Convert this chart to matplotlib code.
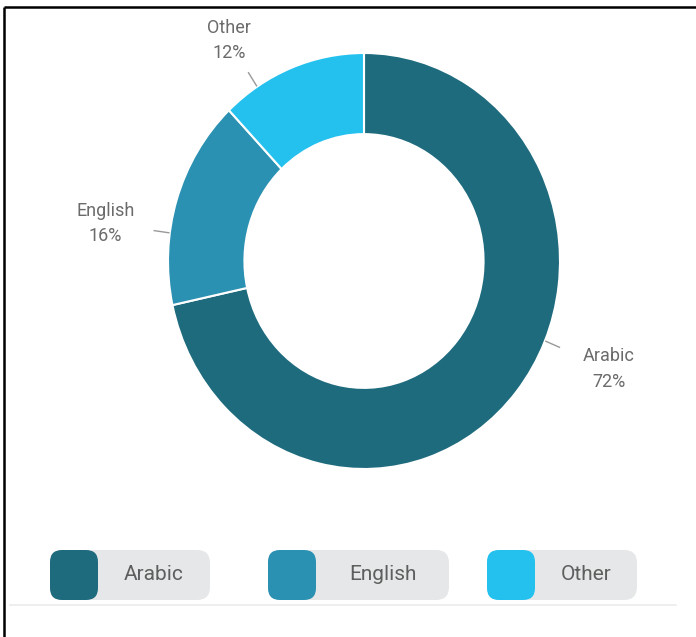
import numpy as np
import matplotlib.pyplot as plt
from matplotlib.patches import FancyBboxPatch

languages = ['Arabic', 'English', 'Other']
shares = [71.6, 16.3, 12.1]
colors = ['#1f6b7e', '#2b91b2', '#24c1ef']

# label anchor positions in the donut's own coords (radius = 1)
label_pos = [(1.25, -0.52), (-1.32, 0.18), (-0.69, 1.06)]

# legend pill layout, pixels from top-left
pill_left = [50, 268, 487]
pill_width = [160, 181, 150]

W, H = 696, 637
fig = plt.figure(figsize=(W / 100, H / 100), dpi=100)

# donut (the source image is slightly stretched vertically)
cx, cy, rx, ry = 364, 261, 196, 208
ax = fig.add_axes([(cx - rx) / W, (H - cy - ry) / H, 2 * rx / W, 2 * ry / H])
ax.pie(shares, colors=colors, startangle=90, counterclock=False,
       wedgeprops=dict(width=0.39, edgecolor='white', linewidth=1.5))
ax.set_aspect('auto')
ax.set_xlim(-1, 1)
ax.set_ylim(-1, 1)
ax.axis('off')

for lang, share, (lx, ly) in zip(languages, shares, label_pos):
    ang = np.arctan2(ly, lx)
    ax.plot([1.005 * np.cos(ang), 1.08 * np.cos(ang)],
            [1.005 * np.sin(ang), 1.08 * np.sin(ang)],
            color='#999999', lw=1, clip_on=False)
    ax.text(lx, ly, f'{lang}\n{share:.0f}%', ha='center', va='center',
            fontsize=13, color='#6b6b6b', family='Roboto', linespacing=1.55)

# overlay for legend, frame lines
ov = fig.add_axes([0, 0, 1, 1])
ov.set_xlim(0, W)
ov.set_ylim(H, 0)
ov.axis('off')

for lang, col, x0, w in zip(languages, colors, pill_left, pill_width):
    ov.add_patch(FancyBboxPatch((x0, 550), w, 50,
                                boxstyle='round,pad=0,rounding_size=13',
                                fc='#e6e7e8', ec='none'))
    ov.add_patch(FancyBboxPatch((x0, 550), 48, 50,
                                boxstyle='round,pad=0,rounding_size=12',
                                fc=col, ec='none'))
    ov.text((x0 + 48 + x0 + w) / 2, 575, lang, ha='center', va='center',
            fontsize=15, color='#5e5e5e', family='Roboto')

ov.plot([10, 676], [605, 605], color='#ebebeb', lw=1.2)
ov.plot([4, W], [7, 7], color='black', lw=1.8, solid_capstyle='butt')
ov.plot([4, 4], [7, H], color='black', lw=1.8, solid_capstyle='butt')

fig.savefig('out.png', dpi=100)
